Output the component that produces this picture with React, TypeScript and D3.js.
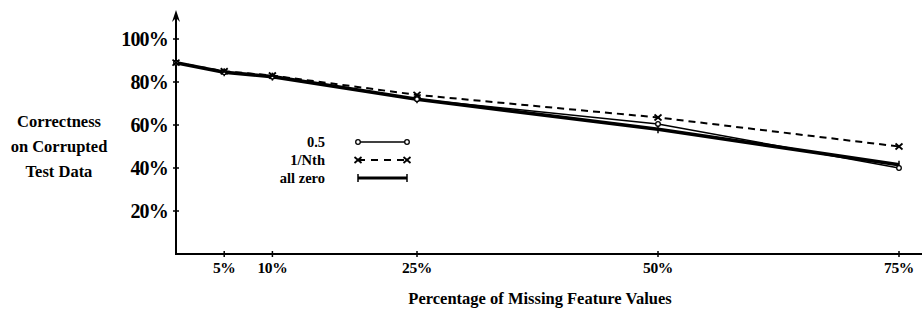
import React from "react";
import * as d3 from "d3";

const xValues = [0, 5, 10, 25, 50, 75];
const halfSeries = [89, 84.5, 82.5, 72, 60.5, 40];
const nthSeries = [89, 85, 83, 74, 63.5, 50];
const zeroSeries = [89, 84.5, 82.5, 72, 58, 41.5];
const xTicks = [5, 10, 25, 50, 75];
const yTicks = [20, 40, 60, 80, 100];
const legendLabels = ["0.5", "1/Nth", "all zero"];
const yTitle = ["Correctness", "on Corrupted", "Test Data"];
const xTitle = "Percentage of Missing Feature Values";

const W = 923;
const H = 310;
const FONT = "'Liberation Serif', 'Times New Roman', serif";

export default function App() {
  const x = d3.scaleLinear().domain([0, 75]).range([176, 899]);
  const y = d3.scaleLinear().domain([0, 100]).range([254, 39]);
  const line = d3
    .line<[number, number]>()
    .x((d) => x(d[0]))
    .y((d) => y(d[1]));
  const pts = (s: number[]) => xValues.map((v, i) => [v, s[i]] as [number, number]);

  const circle = (cx: number, cy: number, k: string) => (
    <circle key={k} cx={cx} cy={cy} r={2.3} fill="white" stroke="black" strokeWidth={1.3} />
  );
  const cross = (cx: number, cy: number, k: string) => (
    <g key={k} stroke="black" strokeWidth={1.8}>
      <line x1={cx - 3.5} y1={cy - 3} x2={cx + 3.5} y2={cy + 3} />
      <line x1={cx - 3.5} y1={cy + 3} x2={cx + 3.5} y2={cy - 3} />
    </g>
  );
  const plus = (cx: number, cy: number, k: string) => (
    <g key={k} stroke="black" strokeWidth={1.5}>
      <line x1={cx} y1={cy - 4} x2={cx} y2={cy + 4} />
    </g>
  );

  const legendY = [142, 160, 178];
  const lx1 = 358;
  const lx2 = 407;

  return (
    <svg
      width={W}
      height={H}
      style={{ position: "absolute", left: 0, top: 0, background: "white", fontFamily: FONT }}
    >
      {/* axes */}
      <line x1={176} y1={254} x2={176} y2={14} stroke="black" strokeWidth={2} />
      <path d="M176,10 L172,22 L176,18 L180,22 Z" fill="black" />
      <line x1={175} y1={254} x2={922} y2={254} stroke="black" strokeWidth={2} />

      {yTicks.map((t) => (
        <g key={"yt" + t}>
          <line x1={173} x2={179} y1={y(t)} y2={y(t)} stroke="black" strokeWidth={1.5} />
          <text
            x={168}
            y={y(t)}
            dy="0.35em"
            textAnchor="end"
            fontSize={20}
            fontWeight="bold"
            letterSpacing={-0.8}
          >
            {t + "%"}
          </text>
        </g>
      ))}

      {xTicks.map((t) => (
        <g key={"xt" + t}>
          <line x1={x(t)} x2={x(t)} y1={251} y2={257} stroke="black" strokeWidth={1.5} />
          <text x={x(t)} y={268} dy="0.35em" textAnchor="middle" fontSize={15.5} fontWeight="bold" letterSpacing={-0.4}>
            {t + "%"}
          </text>
        </g>
      ))}

      {yTitle.map((s, i) => (
        <text
          key={s}
          x={59}
          y={121 + i * 25}
          dy="0.35em"
          textAnchor="middle"
          fontSize={16.5}
          fontWeight="bold"
        >
          {s}
        </text>
      ))}

      <text x={540} y={298} dy="0.35em" textAnchor="middle" fontSize={16.5} fontWeight="bold">
        {xTitle}
      </text>

      {/* series */}
      <path d={line(pts(nthSeries)) || ""} fill="none" stroke="black" strokeWidth={2} strokeDasharray="7,5" />
      <path d={line(pts(halfSeries)) || ""} fill="none" stroke="black" strokeWidth={1.6} />
      <path d={line(pts(zeroSeries)) || ""} fill="none" stroke="black" strokeWidth={3.6} />

      {pts(zeroSeries).map((p, i) => plus(x(p[0]), y(p[1]), "z" + i))}
      {pts(halfSeries).map((p, i) => circle(x(p[0]), y(p[1]), "h" + i))}
      {pts(nthSeries).map((p, i) => cross(x(p[0]), y(p[1]), "n" + i))}

      {/* legend */}
      {legendLabels.map((s, i) => (
        <text
          key={s}
          x={325}
          y={legendY[i]}
          dy="0.35em"
          textAnchor="end"
          fontSize={14.5}
          fontWeight="bold"
        >
          {s}
        </text>
      ))}
      <line x1={lx1} x2={lx2} y1={legendY[0]} y2={legendY[0]} stroke="black" strokeWidth={1.6} />
      {circle(lx1, legendY[0], "lc1")}
      {circle(lx2, legendY[0], "lc2")}
      <line x1={lx1} x2={lx2} y1={legendY[1]} y2={legendY[1]} stroke="black" strokeWidth={2} strokeDasharray="7,6" />
      {cross(lx1, legendY[1], "lx1")}
      {cross(lx2, legendY[1], "lx2")}
      <line x1={lx1} x2={lx2} y1={legendY[2]} y2={legendY[2]} stroke="black" strokeWidth={3} />
      {plus(lx1, legendY[2], "lp1")}
      {plus(lx2, legendY[2], "lp2")}
    </svg>
  );
}
